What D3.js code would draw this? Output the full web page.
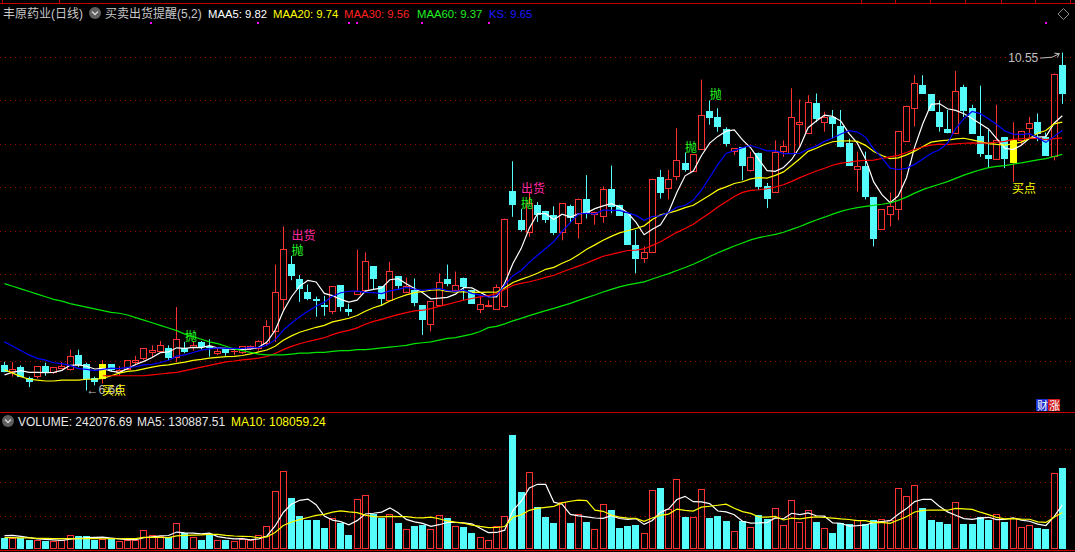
<!DOCTYPE html>
<html><head><meta charset="utf-8">
<script src="https://cdn.jsdelivr.net/npm/d3@7"></script>
<style>
html,body{margin:0;padding:0;background:#000;overflow:hidden}
svg{display:block}
text{font-family:"Liberation Sans",Arial,"Noto Sans CJK SC",sans-serif}
</style></head><body>
<svg id="c" width="1075" height="552"></svg>
<script>
// ---------------- data ----------------
const opens = [6.95,6.88,6.93,6.80,6.83,6.94,6.87,6.92,6.91,7.07,
6.97,6.80,6.81,6.96,6.87,6.91,6.99,7.04,7.10,7.12,
7.15,7.05,7.15,7.16,7.22,7.17,7.09,7.14,7.11,7.10,
7.15,7.15,7.21,7.34,7.71,8.12,7.94,7.79,7.71,7.64,
7.58,7.87,7.60,7.77,7.82,8.09,7.86,7.70,7.98,7.80,
7.82,7.64,7.43,7.64,7.94,7.82,7.96,7.82,7.60,7.63,
7.60,7.63,8.96,8.62,8.49,8.80,8.73,8.68,8.48,8.78,
8.59,8.87,8.69,8.67,8.98,8.80,8.70,8.34,8.19,8.26,
9.12,8.99,9.13,9.28,9.19,9.44,9.88,9.81,9.67,9.42,
9.46,9.20,9.40,9.01,8.95,9.42,9.39,9.73,9.63,9.97,
9.75,9.81,9.71,9.51,9.21,9.25,8.89,8.52,8.69,8.75,
9.53,9.91,10.18,10.07,9.87,9.67,9.63,10.16,9.91,9.59,
9.37,9.33,9.58,9.29,9.54,9.68,9.75,9.58,9.36,10.41];
const highs = [6.99,6.99,6.95,6.82,6.94,6.98,6.93,6.99,7.13,7.13,
6.98,6.82,7.01,6.96,6.94,7.01,7.06,7.15,7.18,7.23,
7.18,7.62,7.22,7.22,7.23,7.25,7.15,7.15,7.15,7.17,
7.18,7.24,7.47,8.11,8.55,8.21,7.99,7.88,7.74,7.75,
7.86,7.87,7.66,8.28,8.25,8.09,7.86,8.14,7.98,7.96,
7.95,7.64,7.69,8.01,8.11,8.03,7.96,7.82,7.74,7.70,
7.88,8.64,9.30,8.75,8.95,8.83,8.73,8.78,8.82,8.80,
8.87,9.14,8.72,9.01,9.25,8.80,8.70,8.51,8.32,9.10,
9.20,9.20,9.68,9.40,9.38,10.24,10.00,9.91,9.69,9.45,
9.46,9.41,9.40,9.05,9.54,9.54,10.14,10.01,10.06,10.08,
9.87,9.89,9.89,9.56,9.41,9.41,8.89,8.75,8.94,9.65,
9.94,10.29,10.29,10.07,10.00,9.89,10.34,10.18,9.95,10.17,
9.66,9.95,9.58,9.75,9.65,9.81,9.85,9.63,10.31,10.55];
const lows = [6.87,6.82,6.82,6.70,6.80,6.83,6.85,6.92,6.89,6.93,
6.66,6.72,6.74,6.88,6.84,6.90,6.95,7.01,7.04,7.11,
7.01,6.99,7.09,7.12,7.13,7.05,7.07,7.06,7.07,7.08,
7.13,7.12,7.17,7.22,7.59,7.93,7.68,7.70,7.51,7.52,
7.54,7.57,7.52,7.77,7.82,7.82,7.64,7.70,7.83,7.80,
7.63,7.30,7.34,7.64,7.86,7.82,7.70,7.67,7.55,7.62,
7.60,7.61,8.66,8.49,8.43,8.60,8.59,8.45,8.39,8.59,
8.41,8.64,8.57,8.59,8.70,8.68,8.35,8.01,8.13,8.26,
8.87,8.86,9.08,9.18,9.19,9.44,9.72,9.64,9.47,9.37,
9.08,9.18,8.97,8.76,8.95,9.35,9.39,9.46,9.62,9.75,
9.64,9.56,9.46,9.25,8.95,8.86,8.32,8.52,8.55,8.62,
9.53,9.70,10.08,9.89,9.64,9.62,9.63,9.81,9.62,9.35,
9.22,9.33,9.22,9.06,9.49,9.58,9.53,9.37,9.31,9.96];
const closes = [6.89,6.91,6.83,6.77,6.94,6.88,6.93,6.94,7.06,6.97,
6.80,6.77,6.97,6.91,6.90,7.01,7.01,7.15,7.13,7.18,
7.05,7.25,7.12,7.18,7.17,7.16,7.12,7.10,7.12,7.17,
7.17,7.23,7.40,7.79,8.29,7.99,7.84,7.73,7.70,7.63,
7.86,7.63,7.57,7.81,8.15,7.96,7.72,8.04,7.87,7.86,
7.68,7.48,7.69,7.91,7.90,7.87,7.86,7.67,7.66,7.65,
7.85,8.64,8.81,8.52,8.82,8.69,8.64,8.48,8.82,8.66,
8.87,8.70,8.72,8.98,8.79,8.68,8.35,8.19,8.26,9.10,
8.94,9.10,9.31,9.21,9.38,9.83,9.81,9.70,9.51,9.45,
9.26,9.35,9.02,8.88,9.41,9.48,9.81,9.75,9.98,9.80,
9.81,9.74,9.48,9.26,9.25,8.90,8.42,8.75,8.79,9.65,
9.94,10.20,10.09,9.89,9.70,9.64,10.11,9.89,9.62,9.40,
9.34,9.55,9.34,9.54,9.65,9.74,9.62,9.37,10.31,10.08];
const volumes = [32000,32000,32000,27000,27000,25000,25000,26000,43000,38000,
38000,28000,30000,30000,24000,28000,28000,58000,43000,38000,
35000,79000,47000,37000,27000,46000,28000,27000,24000,30000,
28000,43000,70000,173000,232000,153000,100000,88000,88000,62000,
94000,77000,41000,150000,161000,105000,94000,105000,77000,61000,
68000,71000,61000,102000,94000,68000,65000,47000,37000,28000,
70000,99000,342000,171000,229000,126000,97000,77000,140000,77000,
105000,80000,61000,135000,118000,62000,68000,71000,49000,177000,
183000,120000,210000,97000,97000,180000,94000,100000,83000,55000,
83000,65000,103000,90000,123000,71000,147000,82000,117000,80000,
64000,47000,77000,74000,87000,74000,86000,90000,87000,182000,
159000,191000,124000,86000,80000,74000,141000,74000,74000,97000,
88000,105000,80000,94000,65000,71000,62000,59000,226000,242076.69];

// moving-average values before enough bars exist
const ma5Head  = [6.84,6.87,6.89,6.87];
const ma10Head = [7.22,7.17,7.12,7.07,7.03,7.01,6.98,6.97,6.95];
const ma20Head = [6.90,6.86,6.82,6.79,6.78,6.77,6.77,6.78,6.78,6.78,
6.79,6.79,6.80,6.83,6.86,6.88,6.89,6.91,6.93];
const ma30Head = [null,null,null,null,null,null,null,null,null,null,null,null,
6.83,6.83,6.83,6.83,6.83,6.83,6.84,6.85,6.86,6.87,6.89,6.91,6.93,6.95,6.97,6.99,7.00];
const ma60Head = [7.89,7.86,7.83,7.80,7.77,7.74,7.71,7.69,7.66,7.64,
7.62,7.60,7.58,7.56,7.55,7.53,7.50,7.47,7.44,7.41,
7.38,7.35,7.31,7.28,7.25,7.22,7.20,7.17,7.14,7.12,
7.10,7.08,7.07,7.07,7.07,7.08,7.09,7.09,7.10,7.10,
7.11,7.12,7.12,7.13,7.13,7.14,7.15,7.16,7.17,7.18,
7.20,7.21,7.22,7.24,7.26,7.27,7.29,7.31,7.34];
const vma5Head  = [40000,41000,38000,34000];
const vma10Head = [34000,34000,33000,33000,32000,32000,31000,31000,31000];

const priceGrid = [7.0,7.5,8.0,8.5,9.0,9.5,10.0,10.5];
const volGrid = [100000,200000,300000];

const sellIdx = [22,35,63,83,86];   // 抛
const shipIdx = [35,63];            // 出货
const buyIdx  = [12,123];           // 买点

const titleLabels = ["丰原药业(日线)","买卖出货提醒(5,2)"];
const maNames  = ["MAA5","MAA20","MAA30","MAA60","KS"];
const maValues = ["9.82","9.74","9.56","9.37","9.65"];
const volNames = ["VOLUME","MA5","MA10"];
const volValues= ["242076.69","130887.51","108059.24"];

// ---------------- drawing ----------------
const W=1075,H=552;
const svg=d3.select('#c');
const n=closes.length;
const UP='#ff3232', DN='#54fcfc', GRID='#a00000', FRAME='#c80000';

const x=d3.scaleLinear().domain([0,n-1]).range([4.5,4.5+8.2*(n-1)]);
const y=d3.scaleLinear().domain([6.4013,10.8684]).range([413,25]);
const yv=d3.scaleLinear().domain([0,405000]).range([549,413.5]);

function ma(arr,len,head){
  return arr.map((v,i)=> i>=len-1 ? d3.mean(arr.slice(i-len+1,i+1)) : head[i]);
}
const ma5=ma(closes,5,ma5Head), ma10=ma(closes,10,ma10Head), ma20=ma(closes,20,ma20Head),
      ma30=ma(closes,30,ma30Head), ma60=ma(closes,60,ma60Head);
const vma5=ma(volumes,5,vma5Head), vma10=ma(volumes,10,vma10Head);

svg.append('rect').attr('width',W).attr('height',H).attr('fill','#000');

// frame lines
svg.append('line').attr('x1',0).attr('x2',W).attr('y1',3.5).attr('y2',3.5).attr('stroke',FRAME);
[2,59,861,895,930,965,1001,1035,1070].forEach(t=>{
  svg.append('line').attr('x1',t+0.5).attr('x2',t+0.5).attr('y1',0).attr('y2',3).attr('stroke',FRAME);
});
svg.append('line').attr('x1',0).attr('x2',W).attr('y1',412.5).attr('y2',412.5).attr('stroke',FRAME);
svg.append('line').attr('x1',0).attr('x2',W).attr('y1',550.5).attr('y2',550.5).attr('stroke',FRAME);

// grid
priceGrid.forEach(v=>{
  const yy=Math.round(y(v))+0.5;
  svg.append('line').attr('x1',0).attr('x2',W).attr('y1',yy).attr('y2',yy)
    .attr('stroke',GRID).attr('stroke-dasharray','1,4');
});
volGrid.forEach(v=>{
  const yy=Math.round(yv(v))+0.5;
  svg.append('line').attr('x1',0).attr('x2',W).attr('y1',yy).attr('y2',yy)
    .attr('stroke',GRID).attr('stroke-dasharray','1,4');
});

// candles
const gC=svg.append('g');
for(let i=0;i<n;i++){
  const o=opens[i],c=closes[i],h=highs[i],l=lows[i];
  const up=c>=o;
  const left=Math.round(x(i)-3.5);
  const cx=left+3.5;
  const top=Math.round(y(Math.max(o,c))), bot=Math.round(y(Math.min(o,c)));
  const col=up?UP:DN;
  if(up){
    gC.append('line').attr('x1',cx).attr('x2',cx).attr('y1',y(h)).attr('y2',top).attr('stroke',col);
    gC.append('line').attr('x1',cx).attr('x2',cx).attr('y1',bot).attr('y2',y(l)).attr('stroke',col);
    if(bot-top<1){
      gC.append('line').attr('x1',left).attr('x2',left+7).attr('y1',top+0.5).attr('y2',top+0.5).attr('stroke',col);
    } else {
      gC.append('rect').attr('x',left+0.5).attr('y',top+0.5).attr('width',6).attr('height',bot-top)
        .attr('fill','none').attr('stroke',col);
    }
  } else {
    gC.append('line').attr('x1',cx).attr('x2',cx).attr('y1',y(h)).attr('y2',y(l)).attr('stroke',col);
    gC.append('rect').attr('x',left).attr('y',top).attr('width',7).attr('height',Math.max(1,bot-top+1)).attr('fill',col);
  }
  if(buyIdx.includes(i)){
    gC.append('rect').attr('x',left).attr('y',top).attr('width',7).attr('height',Math.max(1,bot-top+1)).attr('fill','#ffff00');
  }
}

// MA lines
function drawLine(vals,scale,color,g){
  const ln=d3.line().defined(d=>d!=null).x((d,i)=>x(i)).y(d=>scale(d));
  g.append('path').attr('d',ln(vals)).attr('fill','none').attr('stroke',color).attr('stroke-width',1.2);
}
const gL=svg.append('g');
drawLine(ma5,y,'#ffffff',gL);
drawLine(ma20,y,'#ffff00',gL);
drawLine(ma30,y,'#ff0000',gL);
drawLine(ma60,y,'#00e600',gL);
drawLine(ma10,y,'#0000ff',gL);

// volume bars
const gV=svg.append('g');
for(let i=0;i<n;i++){
  const up=closes[i]>=opens[i];
  const left=Math.round(x(i)-3.5);
  const top=Math.round(yv(volumes[i])), base=Math.round(yv(0));
  if(up){
    gV.append('rect').attr('x',left+0.5).attr('y',top+0.5).attr('width',6).attr('height',base-top-1)
      .attr('fill','none').attr('stroke',UP);
  } else {
    gV.append('rect').attr('x',left).attr('y',top).attr('width',7).attr('height',base-top).attr('fill',DN);
  }
}
drawLine(vma5,yv,'#ffffff',gV);
drawLine(vma10,yv,'#ffff00',gV);

// signal labels
const gT=svg.append('g').style('font-size','12px');
sellIdx.forEach(i=>{
  gT.append('text').attr('x',x(i)).attr('y',y(highs[i])-1).attr('fill','#22ff22').text('抛');
});
shipIdx.forEach(i=>{
  gT.append('text').attr('x',x(i)).attr('y',y(highs[i])-16).attr('fill','#ff2aa0').text('出货');
});
// min low label
const iMin=d3.minIndex(lows);
gT.append('text').attr('x',x(iMin)).attr('y',y(lows[iMin])+3).attr('fill','#c0c0c0').text('←'+lows[iMin].toFixed(2));
buyIdx.forEach(i=>{
  gT.append('text').attr('x',x(i)-1).attr('y',y(lows[i])+11).attr('fill','#ffff00').text('买点');
});
// max high label
const iMax=d3.maxIndex(highs);
const hx=x(iMax), hy=y(highs[iMax]);
gT.append('text').attr('x',hx-24).attr('y',hy+9).attr('text-anchor','end').attr('fill','#c0c0c0').text(highs[iMax].toFixed(2));
gT.append('path').attr('d',`M${hx-22},${hy+5.5} L${hx-10},${hy+4.5} L${hx-3},${hy+1}`)
  .attr('fill','none').attr('stroke','#c0c0c0');
gT.append('path').attr('d',`M${hx-8},${hy+0.5} L${hx-3},${hy+1} L${hx-5},${hy+5}`)
  .attr('fill','none').attr('stroke','#c0c0c0');

// header
function chevronCircle(cx,cy){
  svg.append('circle').attr('cx',cx).attr('cy',cy).attr('r',6).attr('fill','#5f5f5f');
  svg.append('path').attr('d',`M${cx-3},${cy-1.5} L${cx},${cy+1.5} L${cx+3},${cy-1.5}`)
    .attr('fill','none').attr('stroke','#d8d8d8').attr('stroke-width',1.3);
}
const gH=svg.append('g').style('font-size','12px');
gH.append('text').attr('x',3).attr('y',18).attr('fill','#c8c8c8').text(titleLabels[0]);
chevronCircle(95,13);
gH.append('text').attr('x',105).attr('y',18).attr('fill','#c8c8c8').text(titleLabels[1]);
const maCols=['#ffffff','#ffff00','#ff2020','#22ee22','#1a1aff'];
const maX=[208,273,344,417,489];
maNames.forEach((nm,k)=>{
  gH.append('text').attr('x',maX[k]).attr('y',18).attr('fill',maCols[k])
    .style('font-size','11.3px').text(nm+': '+maValues[k]);
});
// magenta markers
[150,257,348,356,421,488,1045].forEach(px=>{
  svg.append('rect').attr('x',px).attr('y',22).attr('width',2).attr('height',2).attr('fill','#ff00ff');
});
// diamond
svg.append('path').attr('d','M1063.5,8.5 L1069,14 L1063.5,19.5 L1058,14 Z').attr('fill','none').attr('stroke','#8a8a8a');

// volume header
chevronCircle(8,421);
const vCols=['#e8e8e8','#e8e8e8','#ffff00'];
const vX=[18,137,231];
volNames.forEach((nm,k)=>{
  gH.append('text').attr('x',vX[k]).attr('y',426).attr('fill',vCols[k]).text(nm+': '+volValues[k]);
});

// bottom-right badge
svg.append('rect').attr('x',1036).attr('y',399).attr('width',12).attr('height',12).attr('fill','#1c2fd0');
svg.append('rect').attr('x',1048).attr('y',399).attr('width',12).attr('height',12).attr('fill','#d01c1c');
svg.append('text').attr('x',1037).attr('y',409.5).style('font-size','11px').attr('fill','#ffffff').text('财');
svg.append('text').attr('x',1049).attr('y',409.5).style('font-size','11px').attr('fill','#ffffff').text('涨');
</script>
</body></html>
